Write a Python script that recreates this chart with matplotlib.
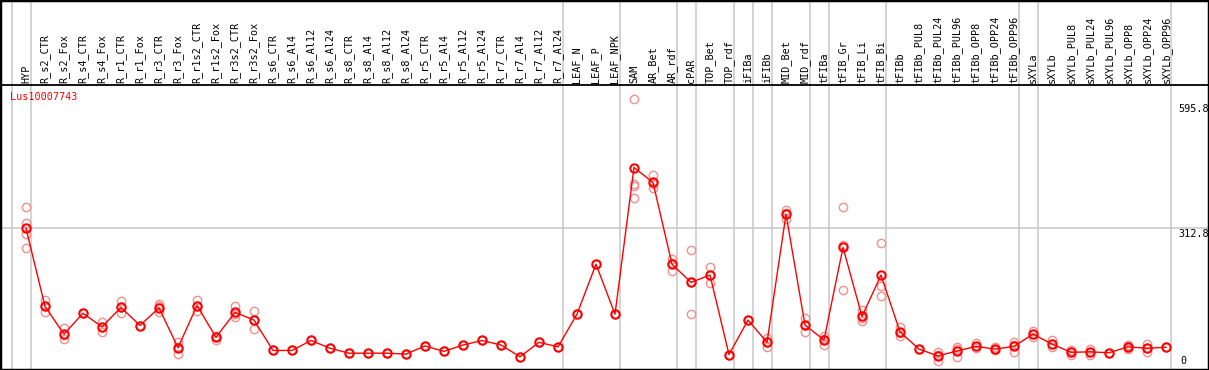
import matplotlib
matplotlib.use("Agg")
import matplotlib.pyplot as plt

labels = ["HYP", "R_s2_CTR", "R_s2_Fox", "R_s4_CTR", "R_s4_Fox", "R_r1_CTR", "R_r1_Fox",
          "R_r3_CTR", "R_r3_Fox", "R_r1s2_CTR", "R_r1s2_Fox", "R_r3s2_CTR", "R_r3s2_Fox",
          "R_s6_CTR", "R_s6_Al4", "R_s6_Al12", "R_s6_Al24", "R_s8_CTR", "R_s8_Al4",
          "R_s8_Al12", "R_s8_Al24", "R_r5_CTR", "R_r5_Al4", "R_r5_Al12", "R_r5_Al24",
          "R_r7_CTR", "R_r7_Al4", "R_r7_Al12", "R_r7_Al24", "LEAF_N", "LEAF_P", "LEAF_NPK",
          "SAM", "AR_Bet", "AR_rdf", "cPAR", "TOP_Bet", "TOP_rdf", "iFIBa", "iFIBb",
          "MID_Bet", "MID_rdf", "tFIBa", "tFIB_Gr", "tFIB_Li", "tFIB_Bi", "tFIBb",
          "tFIBb_PUL8", "tFIBb_PUL24", "tFIBb_PUL96", "tFIBb_OPP8", "tFIBb_OPP24",
          "tFIBb_OPP96", "sXYLa", "sXYLb", "sXYLb_PUL8", "sXYLb_PUL24", "sXYLb_PUL96",
          "sXYLb_OPP8", "sXYLb_OPP24", "sXYLb_OPP96"]

means = [312, 140, 79, 125, 95, 138, 98, 137, 49, 142, 72, 127, 110,
         43, 43, 65, 48, 37, 37, 37, 35, 53, 41, 55, 65, 55, 29, 61, 51,
         123, 233, 123, 446, 413, 233, 193, 209, 34, 110, 61, 343, 99, 66,
         270, 118, 209, 84, 46, 31, 42, 52, 46, 52, 79, 57, 39, 40, 38, 51, 48, 50]

replicates = [[358, 323, 299, 268], [154, 140, 127], [93, 76, 68], [125], [105, 95, 84],
              [152, 138, 125], [98], [145, 140, 127], [61, 51, 35], [154, 142, 131],
              [75, 72, 66], [142, 124, 116], [130, 110, 90],
              [43], [43], [65], [48], [37], [37], [37], [35], [53], [41], [55], [65],
              [55], [29], [61], [51], [123], [233], [123],
              [596, 410, 405, 378], [429, 409, 401], [244, 236, 219], [264, 193, 123],
              [226, 209, 191], [34], [110], [71, 61, 51], [352, 345, 332], [114, 99, 84],
              [75, 68, 55], [359, 275, 176], [132, 115, 107], [280, 185, 163],
              [95, 82, 75], [46], [40, 33, 20], [51, 46, 29], [60, 48], [51, 43],
              [62, 55, 39], [85, 79, 73], [65, 57, 50], [44, 40, 32], [45.5, 40, 33],
              [38], [55, 52, 45.5], [57, 48, 40], [50]]

# groups end after these column indices
group_ends = [-1, 0, 28, 31, 34, 35, 37, 38, 39, 41, 42, 45, 52, 53, 60]

y_ticks = [0, 312.8, 595.8]
gene = "Lus10007743"

W, H = 1209, 370
fig = plt.figure(figsize=(W / 100, H / 100), dpi=100)
ax = fig.add_axes([0, 0, 1, 1])

# pixel layout: column i at x = 26 + 19*i, value 0 at bottom, 0.454 px per unit
px_x = 19.0
px_y = 0.454
ax.set_xlim(-26 / px_x, (W - 26) / px_x)
ax.set_ylim(0, H / px_y)
header_y = (H - 85) / px_y

for sp in ax.spines.values():
    sp.set_linewidth(2.5)
    sp.set_color("black")
ax.set_xticks([])
ax.set_yticks([])

for g in group_ends:
    ax.axvline(g + 0.25, color="#c8c8c8", lw=1.1, zorder=1)
ax.axhline(312.8, color="#c8c8c8", lw=1.1, zorder=1)
ax.axhline(header_y, color="black", lw=1.3, zorder=2)

mono = "DejaVu Sans Mono"
for i, lab in enumerate(labels):
    ax.text(i, (H - 83) / px_y, lab, rotation=90, ha="center", va="bottom",
            fontsize=7.3, family=mono, color="black")

ax.text(-16 / px_x, (H - 97) / px_y, gene, color="red", fontsize=7.3,
        family=mono, ha="left", va="center")

tx = (1178 - 26) / px_x
ax.text(tx, y_ticks[2] - 4 / px_y, "595.8", fontsize=7.3, family=mono,
        ha="left", va="top")
ax.text(tx, y_ticks[1] - 1 / px_y, "312.8", fontsize=7.3, family=mono,
        ha="left", va="top")
ax.text(tx + 0.1, y_ticks[0] + 4 / px_y, "0", fontsize=7.3, family=mono,
        ha="left", va="bottom")

xs = list(range(len(means)))
rx, ry = [], []
for i, reps in enumerate(replicates):
    for r in reps:
        rx.append(i)
        ry.append(r)
ax.plot(rx, ry, "o", ms=6, mfc="none", mec="#f09090", mew=1.0, zorder=3)
ax.plot(xs, means, "-", color="red", lw=1.0, zorder=4)
ax.plot(xs, means, "o", ms=6, mfc="none", mec="red", mew=1.5, zorder=5)

fig.savefig("out.png", dpi=100)
